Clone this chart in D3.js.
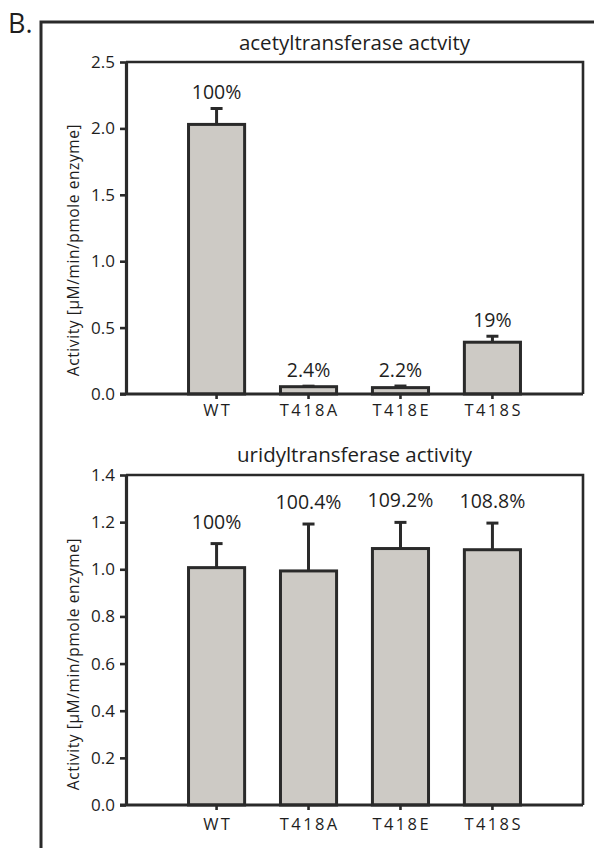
<!DOCTYPE html>
<html>
<head>
<meta charset="utf-8">
<script src="https://cdn.jsdelivr.net/npm/d3@7/dist/d3.min.js"></script>
<style>
  html, body { margin: 0; padding: 0; background: #fff; }
  svg { display: block; font-family: "Open Sans", "Noto Sans", sans-serif; }
</style>
</head>
<body>
<svg id="chart" width="594" height="848"></svg>
<script>
// ---- data ----
const categories = ["WT", "T418A", "T418E", "T418S"];

const acetylTitle = "acetyltransferase actvity";
const acetylValues = [2.03, 0.055, 0.048, 0.39];
const acetylErrors = [0.12, 0.004, 0.012, 0.045];
const acetylLabels = ["100%", "2.4%", "2.2%", "19%"];
const acetylTicks = [0, 0.5, 1.0, 1.5, 2.0, 2.5];
const acetylMax = 2.5;

const uridylTitle = "uridyltransferase activity";
const uridylValues = [1.007, 0.993, 1.088, 1.083];
const uridylErrors = [0.102, 0.199, 0.111, 0.113];
const uridylLabels = ["100%", "100.4%", "109.2%", "108.8%"];
const uridylTicks = [0, 0.2, 0.4, 0.6, 0.8, 1.0, 1.2, 1.4];
const uridylMax = 1.4;

const yAxisLabel = "Activity [\u00B5M/min/pmole enzyme]";
const panelLetter = "B.";

// ---- drawing ----
const svg = d3.select("#chart");
const ink = "#2a2a2a";
const textInk = "#1e1e1e";

// outer frame
svg.append("path")
  .attr("d", d3.line()([[41, 848], [41, 22], [594, 22]]))
  .attr("fill", "none").attr("stroke", ink).attr("stroke-width", 3);

svg.append("text").attr("x", 8).attr("y", 33)
  .attr("font-size", 27).attr("fill", textInk).text(panelLetter);

function drawPanel(cfg) {
  const { top, bottom, left, right, values, errors, labels, ticks, maxV, title, labelGap } = cfg;
  const g = svg.append("g");

  const x = d3.scaleBand().domain(categories).range([left, right])
    .paddingInner(0.39).paddingOuter(0.68);
  const y = d3.scaleLinear().domain([0, maxV]).range([bottom, top]);

  // frame top + right
  g.append("path")
    .attr("d", d3.line()([[left, top], [right, top], [right, bottom]]))
    .attr("fill", "none").attr("stroke", ink).attr("stroke-width", 2.6);

  // bars
  const cats = categories.map((c, i) => ({ c, v: values[i], e: errors[i], l: labels[i] }));
  g.selectAll("rect.bar").data(cats).enter().append("rect")
    .attr("class", "bar")
    .attr("x", d => x(d.c))
    .attr("y", d => y(d.v))
    .attr("width", x.bandwidth())
    .attr("height", d => y(0) - y(d.v))
    .attr("fill", "#cdcac5")
    .attr("stroke", ink).attr("stroke-width", 3);

  // error bars (upper)
  const cx = d => x(d.c) + x.bandwidth() / 2;
  g.selectAll("line.err").data(cats).enter().append("line")
    .attr("x1", cx).attr("x2", cx)
    .attr("y1", d => y(d.v)).attr("y2", d => y(d.v + d.e))
    .attr("stroke", ink).attr("stroke-width", 3);
  g.selectAll("line.cap").data(cats).enter().append("line")
    .attr("x1", d => cx(d) - 6).attr("x2", d => cx(d) + 6)
    .attr("y1", d => y(d.v + d.e)).attr("y2", d => y(d.v + d.e))
    .attr("stroke", ink).attr("stroke-width", 3);

  // percentage labels
  g.selectAll("text.pct").data(cats).enter().append("text")
    .attr("x", cx)
    .attr("y", d => y(d.v + d.e) - labelGap)
    .attr("text-anchor", "middle")
    .attr("font-size", 19.5).attr("fill", textInk)
    .text(d => d.l);

  // y axis
  const ya = g.append("g").attr("transform", `translate(${left},0)`)
    .call(d3.axisLeft(y).tickValues(ticks).tickFormat(d3.format(".1f"))
      .tickSize(6).tickSizeOuter(0).tickPadding(5));
  ya.select(".domain").attr("stroke", ink).attr("stroke-width", 3.2);
  ya.selectAll(".tick line").attr("stroke", ink).attr("stroke-width", 2.6);
  ya.selectAll(".tick text").attr("font-size", 17).attr("fill", textInk)
    .attr("font-family", "'Open Sans', sans-serif");

  // x axis
  const xa = g.append("g").attr("transform", `translate(0,${bottom})`)
    .call(d3.axisBottom(x).tickSize(5).tickSizeOuter(0).tickPadding(cfg.xPad));
  xa.select(".domain").attr("stroke", ink).attr("stroke-width", 3.2)
    .attr("d", `M${left - 6},0H${right}`);
  xa.selectAll(".tick line").attr("stroke", ink).attr("stroke-width", 2.6);
  xa.selectAll(".tick text").attr("font-size", 16.5).attr("fill", textInk)
    .attr("letter-spacing", 2.4).attr("dx", 1.2)
    .attr("font-family", "'Open Sans', sans-serif");

  // title
  g.append("text").attr("x", (left + right) / 2).attr("y", top - cfg.titleGap)
    .attr("text-anchor", "middle").attr("font-size", 20.5).attr("fill", textInk)
    .text(title);

  // y label
  g.append("text")
    .attr("transform", `translate(${cfg.ylabX},${(top + bottom) / 2 + cfg.ylabShift}) rotate(-90)`)
    .attr("text-anchor", "middle").attr("font-size", 15.5).attr("fill", textInk)
    .attr("letter-spacing", 0.6)
    .text(yAxisLabel);
}

drawPanel({ top: 62, bottom: 394, left: 126, right: 583,
  values: acetylValues, errors: acetylErrors, labels: acetylLabels,
  ticks: acetylTicks, maxV: acetylMax, title: acetylTitle, labelGap: 9,
  titleGap: 12, xPad: 5, ylabX: 79, ylabShift: 22 });

drawPanel({ top: 475, bottom: 805, left: 126, right: 583,
  values: uridylValues, errors: uridylErrors, labels: uridylLabels,
  ticks: uridylTicks, maxV: uridylMax, title: uridylTitle, labelGap: 15,
  titleGap: 13, xPad: 8, ylabX: 79, ylabShift: 24 });
</script>
</body>
</html>
